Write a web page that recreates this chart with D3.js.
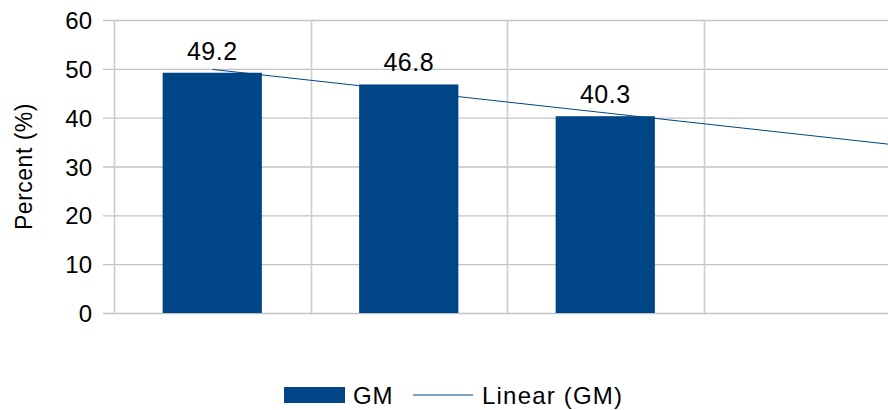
<!DOCTYPE html>
<html>
<head>
<meta charset="utf-8">
<script src="https://cdn.jsdelivr.net/npm/d3@7"></script>
<style>
  body { margin: 0; background: #fff; }
  text { font-family: "Liberation Sans", Arial, sans-serif; fill: #000; }
</style>
</head>
<body>
<div id="chart"></div>
<script>
// data
const categories = ["1", "2", "3", "4"];
const gmValues = [49.2, 46.8, 40.3];
const yTicks = [0, 10, 20, 30, 40, 50, 60];

const width = 888, height = 410;
const margin = { left: 114, top: 20, right: -12, bottom: 97 };
const barColor = "#004586";
const gridColor = "#c3c3c3";

const svg = d3.select("#chart").append("svg")
    .attr("width", width)
    .attr("height", height);

const x = d3.scaleBand()
    .domain(categories)
    .range([margin.left, width - margin.right])
    .paddingInner(0)
    .paddingOuter(0);

const y = d3.scaleLinear()
    .domain([0, 60])
    .range([height - margin.bottom, margin.top]);

// horizontal grid + tick marks
svg.append("g")
    .selectAll("line")
    .data(yTicks)
    .enter()
    .append("line")
    .attr("x1", margin.left - 11)
    .attr("x2", width - margin.right)
    .attr("y1", d => y(d) + 0.5)
    .attr("y2", d => y(d) + 0.5)
    .attr("stroke", gridColor)
    .attr("stroke-width", 1.3);

// vertical grid at category boundaries
svg.append("g")
    .selectAll("line")
    .data(categories)
    .enter()
    .append("line")
    .attr("x1", d => Math.round(x(d)) + 0.5)
    .attr("x2", d => Math.round(x(d)) + 0.5)
    .attr("y1", y(60))
    .attr("y2", y(0))
    .attr("stroke", "#cdcdcd")
    .attr("stroke-width", 1.6);

// y tick labels
svg.append("g")
    .selectAll("text")
    .data(yTicks)
    .enter()
    .append("text")
    .attr("x", margin.left - 22)
    .attr("y", d => y(d) + 9)
    .attr("text-anchor", "end")
    .style("font-size", "24px")
    .text(d => d);

// y axis title
svg.append("text")
    .attr("transform", `translate(32,${(y(0) + y(60)) / 2}) rotate(-90)`)
    .attr("text-anchor", "middle")
    .style("font-size", "23px")
    .style("letter-spacing", "0.5px")
    .text("Percent (%)");

// bars
const barW = x.bandwidth() * 0.505;
svg.append("g")
    .selectAll("rect")
    .data(gmValues)
    .enter()
    .append("rect")
    .attr("x", (d, i) => x(categories[i]) + x.bandwidth() / 2 - barW / 2)
    .attr("y", d => y(d))
    .attr("width", barW)
    .attr("height", d => y(0) - y(d))
    .attr("fill", barColor);

// value labels
svg.append("g")
    .selectAll("text")
    .data(gmValues)
    .enter()
    .append("text")
    .attr("x", (d, i) => x(categories[i]) + x.bandwidth() / 2)
    .attr("y", d => y(d) - 13)
    .attr("text-anchor", "middle")
    .style("font-size", "25px")
    .style("letter-spacing", "0.5px")
    .text(d => d.toFixed(1));

// linear trend line (least squares over bar index)
const xs = gmValues.map((d, i) => i + 1);
const mx = d3.mean(xs), my = d3.mean(gmValues);
const slope = d3.sum(xs, (v, i) => (v - mx) * (gmValues[i] - my)) / d3.sum(xs, v => (v - mx) * (v - mx));
const intercept = my - slope * mx;

const xIdx = d3.scaleLinear()
    .domain([0.5, categories.length + 0.5])
    .range([margin.left, width - margin.right]);

const xEnd = categories.length + 0.5;
svg.append("line")
    .attr("x1", xIdx(1))
    .attr("y1", y(intercept + slope * 1))
    .attr("x2", xIdx(xEnd))
    .attr("y2", y(intercept + slope * xEnd))
    .attr("stroke", barColor)
    .attr("stroke-width", 1);

// legend
const legend = svg.append("g");
legend.append("rect")
    .attr("x", 284)
    .attr("y", 387)
    .attr("width", 61)
    .attr("height", 16)
    .attr("fill", barColor);
legend.append("text")
    .attr("x", 353)
    .attr("y", 404)
    .style("font-size", "24px")
    .style("letter-spacing", "0.8px")
    .text("GM");
legend.append("line")
    .attr("x1", 413)
    .attr("x2", 473)
    .attr("y1", 395)
    .attr("y2", 395)
    .attr("stroke", barColor)
    .attr("stroke-width", 1);
legend.append("text")
    .attr("x", 482)
    .attr("y", 404)
    .style("font-size", "24px")
    .style("letter-spacing", "1.2px")
    .text("Linear (GM)");
</script>
</body>
</html>
